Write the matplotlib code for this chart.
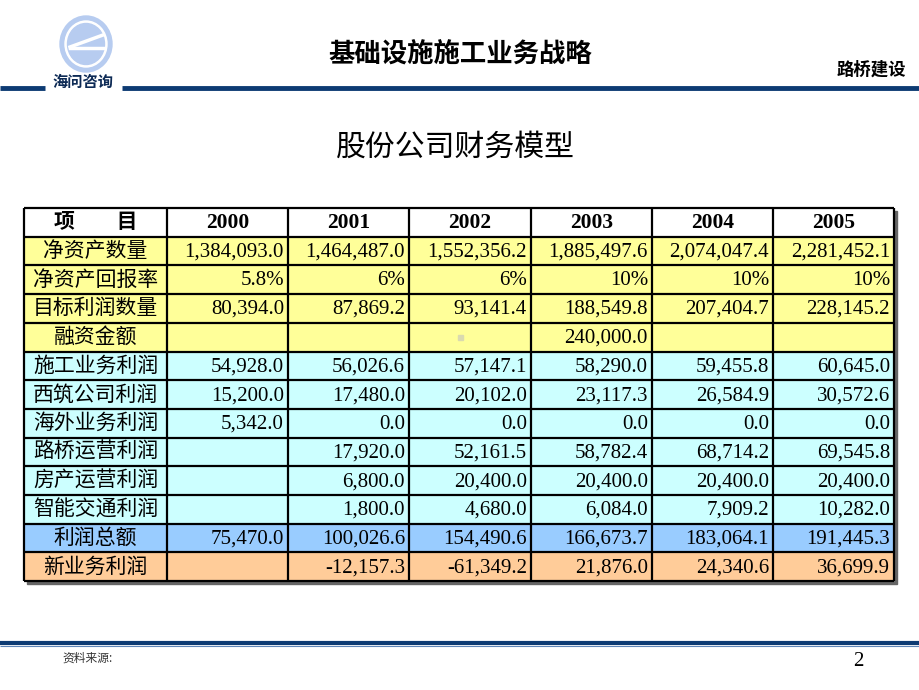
import matplotlib
matplotlib.use("Agg")
import matplotlib.pyplot as plt
from matplotlib.patches import Rectangle, Ellipse

plt.rcParams['font.family'] = ['Liberation Serif', 'Noto Sans CJK SC', 'DejaVu Sans']

# data
years = ['2000', '2001', '2002', '2003', '2004', '2005']
row_labels = ['净资产数量', '净资产回报率', '目标利润数量', '融资金额',
              '施工业务利润', '西筑公司利润', '海外业务利润', '路桥运营利润',
              '房产运营利润', '智能交通利润', '利润总额', '新业务利润']
net_assets = [1384093.0, 1464487.0, 1552356.2, 1885497.6, 2074047.4, 2281452.1]
roe = ['5.8%', '6%', '6%', '10%', '10%', '10%']
target_profit = [80394.0, 87869.2, 93141.4, 188549.8, 207404.7, 228145.2]
financing = [None, None, None, 240000.0, None, None]
construction = [54928.0, 56026.6, 57147.1, 58290.0, 59455.8, 60645.0]
xizhu = [15200.0, 17480.0, 20102.0, 23117.3, 26584.9, 30572.6]
overseas = [5342.0, 0.0, 0.0, 0.0, 0.0, 0.0]
road_bridge = [None, 17920.0, 52161.5, 58782.4, 68714.2, 69545.8]
real_estate = [None, 6800.0, 20400.0, 20400.0, 20400.0, 20400.0]
smart_traffic = [None, 1800.0, 4680.0, 6084.0, 7909.2, 10282.0]
total_profit = [75470.0, 100026.6, 154490.6, 166673.7, 183064.1, 191445.3]
new_business = [None, -12157.3, -61349.2, 21876.0, 24340.6, 36699.9]

rows = [net_assets, roe, target_profit, financing, construction, xizhu,
        overseas, road_bridge, real_estate, smart_traffic, total_profit, new_business]
row_colors = ['#FFFF99'] * 4 + ['#CCFFFF'] * 6 + ['#99CCFF', '#FFCC99']

fig = plt.figure(figsize=(9.2, 6.9), dpi=100)
ax = fig.add_axes([0, 0, 1, 1])
ax.set_xlim(0, 920)
ax.set_ylim(690, 0)
ax.axis('off')

# header / logo
ax.add_patch(Ellipse((86, 44), 52, 56, color='#B7CCF0', zorder=2))
ax.add_patch(Ellipse((86, 44), 42, 46, color='white', zorder=3))
ax.add_patch(Ellipse((86, 44), 37, 41, color='#B7CCF0', zorder=4))
ax.plot([70, 103], [47, 35], color='white', lw=2.5, zorder=5)
ax.plot([70, 104], [48, 48], color='white', lw=2.5, zorder=5)
ax.text(83, 82, '海问咨询', ha='center', va='center', fontsize=11,
        fontweight='bold', family=['Noto Sans CJK SC'], color='#0D2A55')
ax.plot([0, 45], [88, 88], color='#0D3B73', lw=3.5, solid_capstyle='butt')
ax.plot([122, 920], [88, 88], color='#0D3B73', lw=3.5, solid_capstyle='butt')
ax.text(460, 55, '基础设施施工业务战略', ha='center', va='center', fontsize=19,
        fontweight='bold', family=['Noto Sans CJK SC'])
ax.text(906, 70, '路桥建设', ha='right', va='center', fontsize=12.5,
        fontweight='bold', family=['Noto Sans CJK SC'])

ax.text(455, 147, '股份公司财务模型', ha='center', va='center', fontsize=21.5,
        family=['Noto Sans CJK SC'])

# table
col_x = [24, 167, 288, 409, 531, 652, 773, 894]
top = 208
row_h = 28.7
n_rows = len(rows) + 1
bottom = top + row_h * n_rows

ax.add_patch(Rectangle((col_x[0] + 3, top + 3), col_x[-1] - col_x[0], bottom - top,
                       color='#666666', zorder=1))


def fmt(v):
    if v is None:
        return ''
    if isinstance(v, str):
        return v
    return f'{v:,.1f}'


for r in range(n_rows):
    y0 = top + r * row_h
    color = 'white' if r == 0 else row_colors[r - 1]
    ax.add_patch(Rectangle((col_x[0], y0), col_x[-1] - col_x[0], row_h,
                           facecolor=color, edgecolor='none', zorder=2))
    yc = y0 + row_h / 2 + 1
    if r == 0:
        ax.text((col_x[0] + col_x[1]) / 2, yc, '项　　目', ha='center', va='center',
                fontsize=15, fontweight='bold', zorder=4)
        for c, yr in enumerate(years):
            ax.text((col_x[c + 1] + col_x[c + 2]) / 2, yc, yr, ha='center',
                    va='center', fontsize=15.5, fontweight='bold', zorder=4)
    else:
        ax.text((col_x[0] + col_x[1]) / 2, yc, row_labels[r - 1], ha='center',
                va='center', fontsize=15, zorder=4)
        for c, v in enumerate(rows[r - 1]):
            ax.text(col_x[c + 2] - 4, yc, fmt(v), ha='right', va='center',
                    fontsize=15, zorder=4)

# small mark in the financing row
ax.add_patch(Rectangle((458, top + 4 * row_h + 12), 5, 5, color='#DADAB0', zorder=3))

for r in range(n_rows + 1):
    y = top + r * row_h
    ax.plot([col_x[0], col_x[-1]], [y, y], color='black', lw=1.6, zorder=3,
            solid_capstyle='butt')
for x in col_x:
    ax.plot([x, x], [top, bottom], color='black', lw=1.6, zorder=3,
            solid_capstyle='butt')

# footer
ax.plot([0, 920], [643, 643], color='#0D3B73', lw=3, solid_capstyle='butt')
ax.plot([0, 920], [645.5, 645.5], color='#5F86B8', lw=0.8, solid_capstyle='butt')
ax.text(62, 658, '资料来源:', ha='left', va='center', fontsize=8.5, style='italic',
        family=['Noto Sans CJK SC'], color='#333333')
ax.text(864, 661, '2', ha='right', va='center', fontsize=15)

fig.savefig('out.png', dpi=100)
